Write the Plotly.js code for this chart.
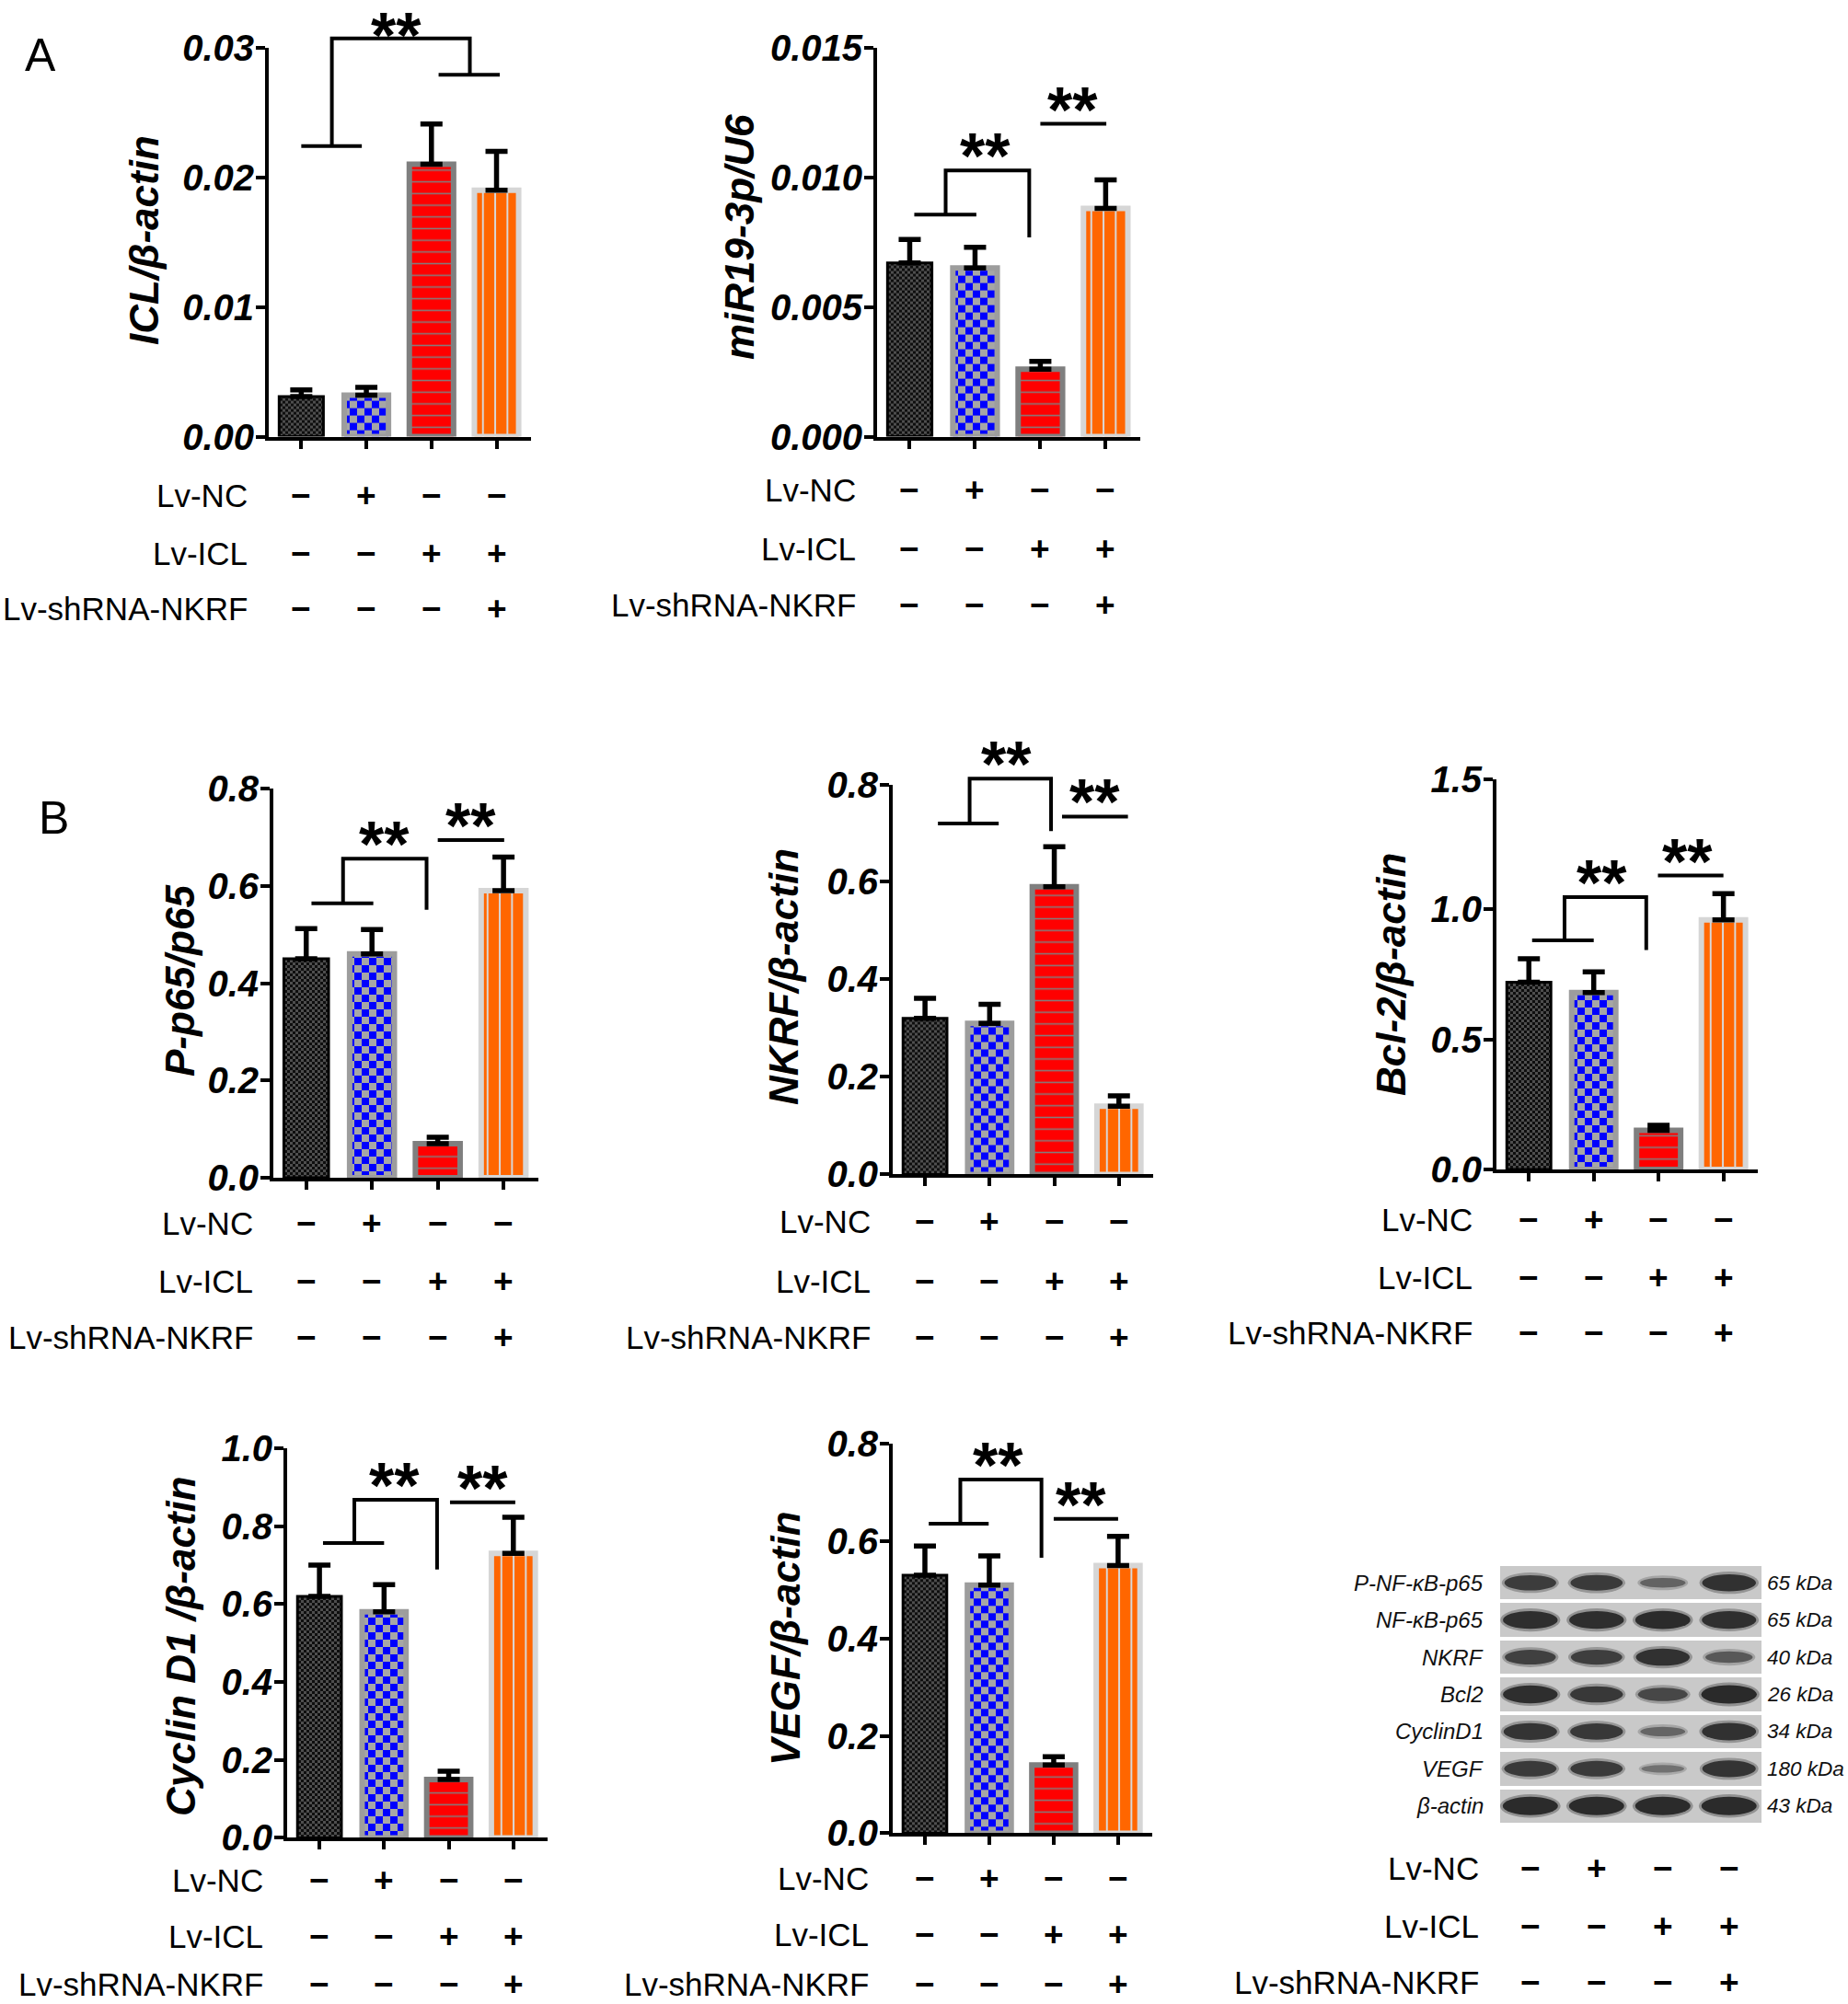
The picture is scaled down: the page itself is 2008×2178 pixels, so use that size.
<!DOCTYPE html>
<html>
<head>
<meta charset="utf-8">
<script src="https://cdn.plot.ly/plotly-3.0.1.min.js"></script>
<style>
html,body{margin:0;padding:0;background:#fff;}
#chart{width:2008px;height:2178px;}
</style>
</head>
<body>
<div id="chart"></div>
<script>
// ================= DATA =================
const conditions = ['Control', 'Lv-NC', 'Lv-ICL', 'Lv-ICL + Lv-shRNA-NKRF'];
const treatmentNames = ['Lv-NC', 'Lv-ICL', 'Lv-shRNA-NKRF'];
const lvNC     = ['\u2212', '+', '\u2212', '\u2212'];
const lvICL    = ['\u2212', '\u2212', '+', '+'];
const lvShNKRF = ['\u2212', '\u2212', '\u2212', '+'];

const iclValues    = [0.0031, 0.0032, 0.0210, 0.0190];
const iclErrors    = [0.0005, 0.0006, 0.0031, 0.0030];
const mirValues    = [0.0067, 0.0065, 0.0026, 0.0088];
const mirErrors    = [0.0009, 0.0008, 0.0003, 0.0011];
const p65Values    = [0.45, 0.46, 0.07, 0.59];
const p65Errors    = [0.062, 0.050, 0.013, 0.069];
const nkrfValues   = [0.32, 0.31, 0.59, 0.14];
const nkrfErrors   = [0.041, 0.039, 0.082, 0.021];
const bcl2Values   = [0.72, 0.68, 0.15, 0.96];
const bcl2Errors   = [0.09, 0.08, 0.02, 0.10];
const cyclinValues = [0.62, 0.58, 0.15, 0.73];
const cyclinErrors = [0.08, 0.07, 0.021, 0.093];
const vegfValues   = [0.53, 0.51, 0.14, 0.55];
const vegfErrors   = [0.06, 0.06, 0.017, 0.06];

// significance brackets (y levels in data units)
const sigICL    = {type:'split', left:0.0224, right:0.0279, top:0.0307};
const sigMiR    = {type:'group', left:0.00856, top:0.01026, drop:0.00768, pair:0.01206};
const sigP65    = {type:'group', left:0.564, top:0.656, drop:0.551, pair:0.694};
const sigNKRF   = {type:'group', left:0.720, top:0.812, drop:0.704, pair:0.734};
const sigBcl2   = {type:'group', left:0.881, top:1.047, drop:0.844, pair:1.130};
const sigCyclin = {type:'group', left:0.757, top:0.868, drop:0.689, pair:0.861};
const sigVEGF   = {type:'group', left:0.636, top:0.727, drop:0.566, pair:0.646};

// western blot
const blotProteins = ['P-NF-\u03BAB-p65', 'NF-\u03BAB-p65', 'NKRF', 'Bcl2', 'CyclinD1', 'VEGF', '\u03B2-actin'];
const blotKDa = ['65 kDa', '65 kDa', '40 kDa', '26 kDa', '34 kDa', '180 kDa', '43 kDa'];
const bandStrength = [
  [0.78, 0.80, 0.40, 0.90],
  [0.95, 0.95, 0.97, 0.93],
  [0.74, 0.76, 0.90, 0.52],
  [0.95, 0.84, 0.66, 1.00],
  [0.88, 0.84, 0.38, 0.92],
  [0.80, 0.80, 0.26, 0.88],
  [0.98, 0.98, 0.98, 0.98]
];

// ================= STYLE / LAYOUT =================
const W = 2008, H = 2178;
const FONT = 'Liberation Sans, Arial, sans-serif';
const XR = [-0.5, 3.53];

const barStyles = [
  {fallback:'#222222', line:{color:'#000000', width:3},
   pattern:{path:'M0,0H3V3H0ZM3,3H6V6H3Z', size:6, fgcolor:'#4e4e4e', bgcolor:'#0e0e0e', fillmode:'replace'}},
  {fallback:'#5a5ad0', line:{color:'#9d9d9d', width:6},
   pattern:{path:'M0,0H8V8H0ZM8,8H16V16H8Z', size:16, fgcolor:'#0000ff', bgcolor:'#a6a6a6', fillmode:'replace'}},
  {fallback:'#ff0000', line:{color:'#7f7f7f', width:6},
   pattern:{shape:'-', size:12.7, solidity:0.12, fgcolor:'#808080', bgcolor:'#ff0000', fillmode:'replace'}},
  {fallback:'#ff6600', line:{color:'#d6d6d6', width:6},
   pattern:{shape:'|', size:13.3, solidity:0.15, fgcolor:'#d8d8d8', bgcolor:'#ff6600', fillmode:'replace'}}
];

const charts = [
  {vals:iclValues, errs:iclErrors, ymax:0.03, dtick:0.01, fmt:'.2f', title:'ICL/\u03B2-actin', sig:sigICL,
   geo:{xL:292, xR:577, yT:51.6, yB:474.6, tx:156, ty:261, labR:271, rows:[538,601,661]},
   bx:{a0:0, a1:0.93, am:0.47, b0:2.11, b1:3.05, bm:2.59, s1:1.46}},
  {vals:mirValues, errs:mirErrors, ymax:0.015, dtick:0.005, fmt:'.3f', title:'miR19-3p/U6', sig:sigMiR,
   geo:{xL:953, xR:1239, yT:51.6, yB:474.6, tx:804, ty:258, labR:932, rows:[532,596,657]},
   bx:{l0:0.07, l1:1.02, m:0.55, r:1.83, p0:2.0, p1:3.01, s1:1.16, s2:2.49}},
  {vals:p65Values, errs:p65Errors, ymax:0.8, dtick:0.2, fmt:'.1f', title:'P-p65/p65', sig:sigP65,
   geo:{xL:297, xR:585, yT:857, yB:1280, tx:195, ty:1066, labR:277, rows:[1329,1392,1453]},
   bx:{l0:0.08, l1:1.02, m:0.56, r:1.83, p0:2.0, p1:3.01, s1:1.19, s2:2.5}},
  {vals:nkrfValues, errs:nkrfErrors, ymax:0.8, dtick:0.2, fmt:'.1f', title:'NKRF/\u03B2-actin', sig:sigNKRF,
   geo:{xL:970, xR:1253, yT:852.5, yB:1276.4, tx:852, ty:1062, labR:948, rows:[1327,1392,1453]},
   bx:{l0:0.2, l1:1.14, m:0.69, r:1.95, p0:2.12, p1:3.14, s1:1.26, s2:2.63}},
  {vals:bcl2Values, errs:bcl2Errors, ymax:1.5, dtick:0.5, fmt:'.1f', title:'Bcl-2/\u03B2-actin', sig:sigBcl2,
   geo:{xL:1626, xR:1910, yT:847, yB:1271, tx:1511, ty:1059, labR:1602, rows:[1325,1388,1448]},
   bx:{l0:0.05, l1:1.0, m:0.55, r:1.81, p0:1.99, p1:3.0, s1:1.12, s2:2.44}},
  {vals:cyclinValues, errs:cyclinErrors, ymax:1.0, dtick:0.2, fmt:'.1f', title:'Cyclin D1 /\u03B2-actin', sig:sigCyclin,
   geo:{xL:312, xR:595, yT:1574, yB:1997.4, tx:196, ty:1789, labR:288, rows:[2043,2104,2156]},
   bx:{l0:0.055, l1:1.0, m:0.54, r:1.82, p0:2.02, p1:3.03, s1:1.16, s2:2.52}},
  {vals:vegfValues, errs:vegfErrors, ymax:0.8, dtick:0.2, fmt:'.1f', title:'VEGF/\u03B2-actin', sig:sigVEGF,
   geo:{xL:970, xR:1252, yT:1569.3, yB:1992.4, tx:853, ty:1781, labR:946, rows:[2041,2102,2156]},
   bx:{l0:0.06, l1:0.99, m:0.55, r:1.81, p0:2.0, p1:3.0, s1:1.13, s2:2.42}}
];

const treatmentRows = [lvNC, lvICL, lvShNKRF];

const traces = [];
const shapes = [];
const annotations = [];
const layout = {
  width: W, height: H,
  margin: {l:0, r:0, t:0, b:0},
  paper_bgcolor: '#ffffff',
  plot_bgcolor: 'rgba(0,0,0,0)',
  showlegend: false,
  hovermode: false,
  barmode: 'overlay',
  font: {family: FONT, color: '#000'}
};

const pX = px => px / W;
const pY = py => 1 - py / H;
const STAR_FONT = {family: FONT, size: 70, color: '#000', weight: 'bold'};

charts.forEach((c, k) => {
  const n = k + 1;
  const s = n === 1 ? '' : String(n);
  const xa = 'x' + s, ya = 'y' + s;
  const g = c.geo;
  layout['xaxis' + s] = {
    domain: [pX(g.xL), pX(g.xR)], range: XR, anchor: ya,
    showline: true, linewidth: 4, linecolor: '#000',
    ticks: 'outside', ticklen: 9, tickwidth: 4, tickcolor: '#000',
    tickvals: [0, 1, 2, 3], ticktext: ['', '', '', ''],
    showgrid: false, zeroline: false, fixedrange: true
  };
  layout['yaxis' + s] = {
    domain: [pY(g.yB), pY(g.yT)], range: [0, c.ymax], anchor: xa,
    showline: true, linewidth: 4, linecolor: '#000',
    ticks: 'outside', ticklen: 10, tickwidth: 4, tickcolor: '#000',
    tick0: 0, dtick: c.dtick, tickformat: c.fmt, ticklabelstandoff: -6,
    tickfont: {family: FONT, size: 40, color: '#000', weight: 'bold', style: 'italic'},
    showgrid: false, zeroline: false, fixedrange: true
  };

  c.vals.forEach((v, i) => {
    const st = barStyles[i];
    traces.push({
      type: 'bar', name: conditions[i], x: [i], y: [v], xaxis: xa, yaxis: ya, width: 0.68,
      marker: {color: st.fallback, line: st.line, pattern: st.pattern},
      error_y: {type: 'data', symmetric: false, array: [c.errs[i]], arrayminus: [0],
                color: '#000', thickness: 5.5, width: 12},
      showlegend: false, hoverinfo: 'skip'
    });
  });

  // significance brackets
  const xd = x => (x - XR[0]) / (XR[1] - XR[0]);
  const yd = y => y / c.ymax;
  const P = (pts) => 'M' + pts.map(p => xd(p[0]).toFixed(5) + ',' + yd(p[1]).toFixed(5)).join('L');
  const addPath = (d) => shapes.push({type: 'path', xref: xa + ' domain', yref: ya + ' domain', path: d,
                                      line: {color: '#000', width: 4}});
  const star = (x, y) => annotations.push({xref: xa + ' domain', yref: ya + ' domain', x: xd(x), y: yd(y),
      xanchor: 'center', yanchor: 'middle', yshift: 15, showarrow: false, text: '**', font: STAR_FONT});
  const sg = c.sig, b = c.bx;
  if (sg.type === 'split') {
    addPath(P([[b.a0, sg.left], [b.a1, sg.left]]));
    addPath(P([[b.am, sg.left], [b.am, sg.top], [b.bm, sg.top], [b.bm, sg.right]]));
    addPath(P([[b.b0, sg.right], [b.b1, sg.right]]));
    // top-most stars: keep inside the canvas
    annotations.push({xref: xa + ' domain', yref: 'paper', x: xd(b.s1), y: 1, xanchor: 'center', yanchor: 'top',
      yshift: 2, showarrow: false, text: '**', font: STAR_FONT});
  } else {
    addPath(P([[b.l0, sg.left], [b.l1, sg.left]]));
    addPath(P([[b.m, sg.left], [b.m, sg.top], [b.r, sg.top], [b.r, sg.drop]]));
    addPath(P([[b.p0, sg.pair], [b.p1, sg.pair]]));
    star(b.s1, sg.top);
    star(b.s2, sg.pair);
  }

  // y-axis title
  annotations.push({xref: 'paper', yref: 'paper', x: pX(g.tx), y: pY(g.ty), xanchor: 'center', yanchor: 'middle',
    textangle: -90, showarrow: false, text: c.title,
    font: {family: FONT, size: 44, color: '#000', weight: 'bold', style: 'italic'}});

  // treatment rows
  treatmentRows.forEach((row, r) => {
    annotations.push({xref: 'paper', yref: 'paper', x: pX(g.labR), y: pY(g.rows[r]), xanchor: 'right', yanchor: 'middle',
      showarrow: false, text: treatmentNames[r], font: {family: FONT, size: 35, color: '#000'}});
    row.forEach((sym, i) => annotations.push({xref: xa, yref: 'paper', x: i, y: pY(g.rows[r]),
      xanchor: 'center', yanchor: 'middle', showarrow: false, text: sym,
      font: {family: FONT, size: 37, color: '#000', weight: 'bold'}}));
  });
});

// ================= WESTERN BLOT =================
const BX = [-0.456, 3.49];
layout.xaxis8 = {domain: [pX(1630), pX(1914)], range: BX, anchor: 'y8', visible: false, fixedrange: true};
layout.yaxis8 = {domain: [pY(1983), pY(1700)], range: [blotProteins.length - 0.5, -0.5], anchor: 'x8',
                 visible: false, fixedrange: true};
const rowEdges = [];
for (let i = 0; i <= blotProteins.length; i++) rowEdges.push(i - 0.5);
traces.push({
  type: 'heatmap', xaxis: 'x8', yaxis: 'y8', x: BX, y: rowEdges,
  z: blotProteins.map(() => [1]),
  colorscale: [[0, '#c9c9c9'], [1, '#c9c9c9']], showscale: false, ygap: 4, hoverinfo: 'skip'
});
bandStrength.forEach((row, r) => {
  row.forEach((s, lane) => {
    const w = 0.58 + 0.26 * s, h = 0.10 + 0.40 * s;
    shapes.push({type: 'circle', xref: 'x8', yref: 'y8', x0: lane - w / 2 - 0.04, x1: lane + w / 2 + 0.04,
      y0: r - h / 2 - 0.07, y1: r + h / 2 + 0.07, line: {width: 0},
      fillcolor: 'rgba(50,50,50,' + (0.15 + 0.22 * s).toFixed(2) + ')'});
    shapes.push({type: 'circle', xref: 'x8', yref: 'y8', x0: lane - w / 2, x1: lane + w / 2,
      y0: r - h / 2, y1: r + h / 2, line: {width: 0},
      fillcolor: 'rgba(35,35,35,' + (0.22 + 0.72 * s).toFixed(2) + ')'});
  });
  annotations.push({xref: 'paper', yref: 'y8', x: pX(1614), y: r, xanchor: 'right', yanchor: 'middle',
    showarrow: false, text: blotProteins[r], font: {family: FONT, size: 24, color: '#111', style: 'italic'}});
  annotations.push({xref: 'paper', yref: 'y8', x: pX(1918), y: r, xanchor: 'left', yanchor: 'middle',
    showarrow: false, text: blotKDa[r], font: {family: FONT, size: 22.5, color: '#111', style: 'italic'}});
});
const blotRowsY = [2030, 2093, 2154];
treatmentRows.forEach((row, r) => {
  annotations.push({xref: 'paper', yref: 'paper', x: pX(1609), y: pY(blotRowsY[r]), xanchor: 'right', yanchor: 'middle',
    showarrow: false, text: treatmentNames[r], font: {family: FONT, size: 35, color: '#000'}});
  row.forEach((sym, i) => annotations.push({xref: 'x8', yref: 'paper', x: i, y: pY(blotRowsY[r]),
    xanchor: 'center', yanchor: 'middle', showarrow: false, text: sym,
    font: {family: FONT, size: 37, color: '#000', weight: 'bold'}}));
});

// panel letters
annotations.push({xref: 'paper', yref: 'paper', x: pX(44), y: pY(60), xanchor: 'center', yanchor: 'middle',
  showarrow: false, text: 'A', font: {family: FONT, size: 50, color: '#000'}});
annotations.push({xref: 'paper', yref: 'paper', x: pX(58), y: pY(889), xanchor: 'center', yanchor: 'middle',
  showarrow: false, text: 'B', font: {family: FONT, size: 50, color: '#000'}});

layout.shapes = shapes;
layout.annotations = annotations;

Plotly.newPlot('chart', traces, layout, {staticPlot: true, displayModeBar: false});
</script>
</body>
</html>
